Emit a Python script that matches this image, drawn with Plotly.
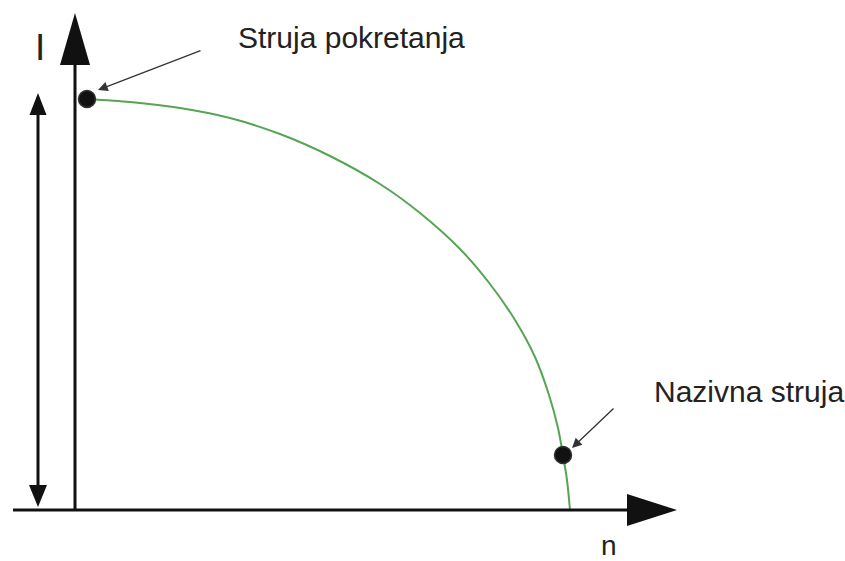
import plotly.graph_objects as go

# Kriva struje u zavisnosti od brzine (procijenjeno sa slike)
n_kriva = [12, 55, 105, 155, 205, 255, 305, 345, 385, 415, 440, 460, 474, 483, 488, 492, 495]
i_kriva = [411, 408, 402, 392, 376, 354, 326, 297, 261, 226, 190, 153, 115, 82, 55, 30, 0]

# Karakteristicne tacke
n_tacke = [12, 488]
i_tacke = [411, 55]
oznake = ["Struja pokretanja", "Nazivna struja"]

fig = go.Figure()

# Zelena kriva
fig.add_trace(go.Scatter(
    x=n_kriva, y=i_kriva,
    mode="lines",
    line=dict(color="#55a555", width=2, shape="spline", smoothing=0.8),
    hoverinfo="skip",
))

# Crne tacke
fig.add_trace(go.Scatter(
    x=n_tacke, y=i_tacke,
    mode="markers",
    marker=dict(color="#111111", size=17, line=dict(color="#333333", width=1.5)),
    hoverinfo="skip",
))

crna = "#111111"
oblici = [
    # osa I
    dict(type="line", x0=0, y0=0, x1=0, y1=450, line=dict(color=crna, width=3)),
    dict(type="path", path="M -15,445 L 15,445 L 0,497 Z", fillcolor=crna, line=dict(width=0)),
    # osa n
    dict(type="line", x0=-62, y0=0, x1=555, y1=0, line=dict(color=crna, width=3)),
    dict(type="path", path="M 552,-16 L 552,16 L 602,0 Z", fillcolor=crna, line=dict(width=0)),
    # dvostruka strelica
    dict(type="line", x0=-37, y0=20, x1=-37, y1=400, line=dict(color=crna, width=3)),
    dict(type="path", path="M -45.5,395 L -28.5,395 L -37,417 Z", fillcolor=crna, line=dict(width=0)),
    dict(type="path", path="M -46,25 L -28,25 L -37,3 Z", fillcolor=crna, line=dict(width=0)),
]
fig.update_layout(shapes=oblici)

font = dict(family="Liberation Sans, Arial, sans-serif", size=30, color="#222222")

# Natpisi
fig.add_annotation(x=161, y=473, text=oznake[0], showarrow=False, xanchor="left", yanchor="middle", font=font)
fig.add_annotation(x=577, y=119, text=oznake[1], showarrow=False, xanchor="left", yanchor="middle", font=font)
fig.add_annotation(x=-35.5, y=463, text="I", showarrow=False, font=dict(family="Liberation Sans, Arial", size=37, color="#222222"))
fig.add_annotation(x=534, y=-35, text="n", showarrow=False,
                   font=dict(family="Liberation Sans, Arial", size=28, color="#222222"))

# Strelice prema tackama
fig.add_annotation(x=23, y=420, ax=127, ay=460, axref="x", ayref="y", text="",
                   showarrow=True, arrowhead=2, arrowsize=1.5, arrowwidth=1.3, arrowcolor="#333333")
fig.add_annotation(x=497, y=62, ax=540, ay=103, axref="x", ayref="y", text="",
                   showarrow=True, arrowhead=2, arrowsize=1.5, arrowwidth=1.3, arrowcolor="#333333")

fig.update_xaxes(range=[-75, 770], visible=False)
fig.update_yaxes(range=[-51, 510], visible=False)
fig.update_layout(
    width=845, height=561,
    margin=dict(l=0, r=0, t=0, b=0),
    plot_bgcolor="white", paper_bgcolor="white",
    showlegend=False,
)

# bez margine stranice, da slika pocinje u gornjem lijevom uglu
fig.write_html("out.html", config={"displayModeBar": False},
               post_script="document.body.style.margin='0';")
